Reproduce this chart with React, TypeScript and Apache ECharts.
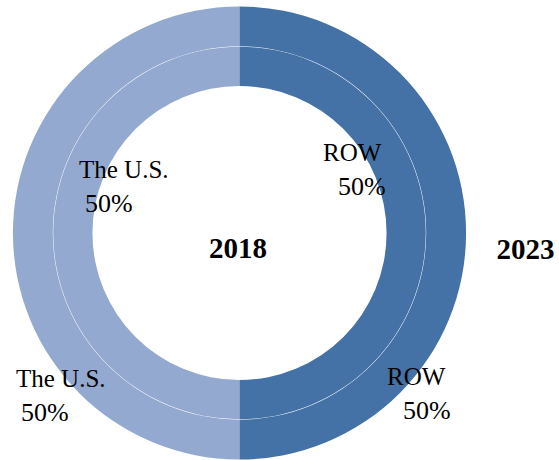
import React, { useEffect, useRef } from "react";
import * as echarts from "echarts";

const categories = ["The U.S.", "ROW"];
const years = ["2018", "2023"];
const values2018 = [50, 50];
const values2023 = [50, 50];

const colors = ["#94A9CF", "#4472A7"];
const FONT = "'Liberation Serif', 'Times New Roman', serif";

// label placement per ring [seriesIndex][dataIndex]: left x, block middle y, 2nd-line indent
const labelPos = [
  [
    { x: 79, y: 186, indent: 6 },
    { x: 323, y: 169, indent: 15 },
  ],
  [
    { x: 16, y: 395, indent: 5 },
    { x: 387, y: 393, indent: 16 },
  ],
];

export default function App() {
  const ref = useRef<HTMLDivElement>(null);
  useEffect(() => {
    if (!ref.current) return;
    const chart = echarts.init(ref.current, null, { renderer: "svg" });
    const mkData = (vals: number[], s: number) =>
      categories.map((name, i) => ({
        name,
        value: vals[i],
        itemStyle: { color: colors[i] },
        label: {
          rich: {
            n: { fontFamily: FONT, fontSize: 25, color: "#000", lineHeight: 34 },
            p: {
              fontFamily: FONT,
              fontSize: 26,
              color: "#000",
              lineHeight: 34,
              padding: [0, 0, 0, labelPos[s][i].indent],
            },
          },
        },
      }));
    const baseSeries = {
      type: "pie" as const,
      center: [239.5, 233],
      startAngle: 90,
      clockwise: false,
      silent: true,
      avoidLabelOverlap: false,
      labelLine: { show: false },
      emphasis: { disabled: true },
      label: {
        show: true,
        position: "inside" as const,
        formatter: "{n|{b}}\n{p|{d}%}",
        fontFamily: FONT,
        fontSize: 25,
        color: "#000",
      },
    };
    chart.setOption({
      animation: false,
      backgroundColor: "#ffffff",
      series: [
        {
          ...baseSeries,
          name: years[0],
          radius: [147, 186.2],
          data: mkData(values2018, 0),
          labelLayout: (p: any) => ({
            x: labelPos[0][p.dataIndex].x,
            y: labelPos[0][p.dataIndex].y,
            align: "left",
            verticalAlign: "middle",
          }),
        },
        {
          ...baseSeries,
          name: years[1],
          radius: [186.7, 226.5],
          data: mkData(values2023, 1),
          labelLayout: (p: any) => ({
            x: labelPos[1][p.dataIndex].x,
            y: labelPos[1][p.dataIndex].y,
            align: "left",
            verticalAlign: "middle",
          }),
        },
      ],
      graphic: [
        {
          type: "text",
          x: 238,
          y: 248,
          style: {
            text: years[0],
            font: `bold 29px ${FONT}`,
            fill: "#000",
            align: "center",
            verticalAlign: "middle",
          },
        },
        {
          type: "text",
          x: 525.5,
          y: 248.5,
          style: {
            text: years[1],
            font: `bold 29px ${FONT}`,
            fill: "#000",
            align: "center",
            verticalAlign: "middle",
          },
        },
      ],
    });
    return () => chart.dispose();
  }, []);
  return (
    <div
      ref={ref}
      style={{ position: "fixed", left: 0, top: 0, width: 559, height: 460 }}
    />
  );
}
